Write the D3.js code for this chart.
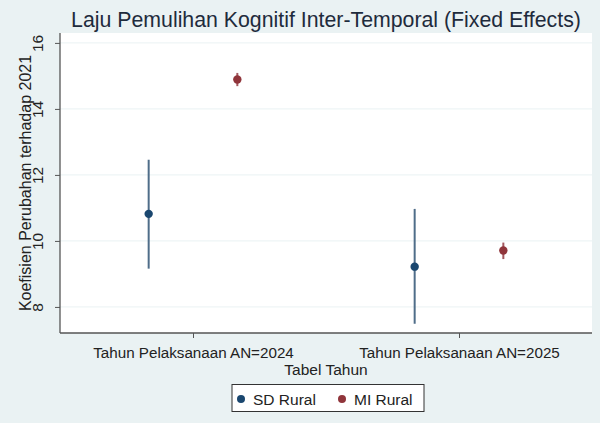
<!DOCTYPE html>
<html>
<head>
<meta charset="utf-8">
<script src="https://cdn.jsdelivr.net/npm/d3@7"></script>
<style>
  html, body { margin: 0; padding: 0; background: #eaf2f3; }
  svg { display: block; }
  text { font-family: "Liberation Sans", Arial, sans-serif; }
</style>
</head>
<body>
<svg id="chart" width="600" height="423"></svg>
<script>
// ---- data ----
const categories = ["Tahun Pelaksanaan AN=2024", "Tahun Pelaksanaan AN=2025"];
const seriesNames = ["SD Rural", "MI Rural"];
const sdRuralCoef = [10.82, 9.22];
const sdRuralLo   = [9.16, 7.49];
const sdRuralHi   = [12.46, 10.97];
const miRuralCoef = [14.89, 9.71];
const miRuralLo   = [14.69, 9.45];
const miRuralHi   = [15.09, 9.95];
const yTicks = [8, 10, 12, 14, 16];
const titleText = "Laju Pemulihan Kognitif Inter-Temporal (Fixed Effects)";
const xTitle = "Tabel Tahun";
const yTitle = "Koefisien Perubahan terhadap 2021";

const series = [
  { name: seriesNames[0], coef: sdRuralCoef, lo: sdRuralLo, hi: sdRuralHi, offset: -1/6, color: "#1a476f", ci: "#4f6d89" },
  { name: seriesNames[1], coef: miRuralCoef, lo: miRuralLo, hi: miRuralHi, offset: 1/6, color: "#90353b", ci: "#a3585f" }
];

const W = 600, H = 423;
const m = { left: 60, right: 8, top: 33, bottom: 90 };
const svg = d3.select("#chart");

svg.append("rect").attr("x", 0).attr("y", 0).attr("width", W).attr("height", H)
  .attr("fill", "#eaf2f3");

const x = d3.scaleLinear().domain([0.5, 2.5]).range([m.left, W - m.right]);
const y = d3.scaleLinear().domain([7.21, 16.3]).range([H - m.bottom, m.top]);

// plot region
svg.append("rect")
  .attr("x", m.left).attr("y", m.top)
  .attr("width", W - m.right - m.left).attr("height", H - m.bottom - m.top)
  .attr("fill", "#ffffff");

// grid
svg.append("g").selectAll("line").data(yTicks).join("line")
  .attr("x1", m.left).attr("x2", W - m.right)
  .attr("y1", d => y(d)).attr("y2", d => y(d))
  .attr("stroke", "#eaf2f3").attr("stroke-width", 1);

// y axis
const yAxis = svg.append("g").attr("transform", `translate(${m.left},0)`)
  .call(d3.axisLeft(y).tickValues(yTicks).tickSize(5).tickPadding(4).tickFormat(d3.format("d")));
yAxis.select(".domain").attr("stroke", "#555").attr("stroke-width", 1.3).attr("d", `M0,${m.top}V${H - m.bottom}`);
yAxis.selectAll(".tick line").attr("stroke", "#555");
yAxis.selectAll(".tick text")
  .attr("fill", "#222").attr("font-size", 15.5)
  .attr("text-anchor", "middle")
  .attr("transform", "rotate(-90)")
  .attr("x", 0).attr("dy", 0)
  .attr("y", -16.7);

// x axis
const xAxis = svg.append("g").attr("transform", `translate(0,${H - m.bottom})`)
  .call(d3.axisBottom(x).tickValues([1, 2]).tickSize(5).tickPadding(9).tickFormat(d => categories[d - 1]));
xAxis.select(".domain").attr("stroke", "#555").attr("stroke-width", 1.3).attr("d", `M${m.left},0H${W - m.right}`);
xAxis.selectAll(".tick line").attr("stroke", "#555");
xAxis.selectAll(".tick text").attr("fill", "#222").attr("font-size", 15.2);

// titles
svg.append("text").attr("x", (m.left + W - m.right) / 2).attr("y", 27)
  .attr("text-anchor", "middle").attr("font-size", 21.3).attr("fill", "#1e2b3c")
  .text(titleText);
svg.append("text").attr("x", (m.left + W - m.right) / 2).attr("y", 375)
  .attr("text-anchor", "middle").attr("font-size", 15.5).attr("fill", "#222")
  .text(xTitle);
svg.append("text")
  .attr("transform", `translate(30.5,${(m.top + H - m.bottom) / 2}) rotate(-90)`)
  .attr("text-anchor", "middle").attr("font-size", 16).attr("fill", "#222")
  .text(yTitle);

// marks
series.forEach(s => {
  const g = svg.append("g");
  const idx = d3.range(categories.length);
  g.selectAll("line").data(idx).join("line")
    .attr("x1", i => x(i + 1 + s.offset)).attr("x2", i => x(i + 1 + s.offset))
    .attr("y1", i => y(s.lo[i])).attr("y2", i => y(s.hi[i]))
    .attr("stroke", s.ci).attr("stroke-width", 2);
  g.selectAll("circle").data(idx).join("circle")
    .attr("cx", i => x(i + 1 + s.offset)).attr("cy", i => y(s.coef[i]))
    .attr("r", 4.2).attr("fill", s.color);
});

// legend
const lg = svg.append("g");
lg.append("rect").attr("x", 232).attr("y", 384.5).attr("width", 192).attr("height", 27)
  .attr("fill", "#ffffff").attr("stroke", "#333").attr("stroke-width", 1);
const legendX = [241, 342];
series.forEach((s, i) => {
  lg.append("circle").attr("cx", legendX[i]).attr("cy", 399).attr("r", 4).attr("fill", s.color);
  lg.append("text").attr("x", legendX[i] + 12).attr("y", 404.5)
    .attr("font-size", 15.5).attr("fill", "#222").text(s.name);
});
</script>
</body>
</html>
